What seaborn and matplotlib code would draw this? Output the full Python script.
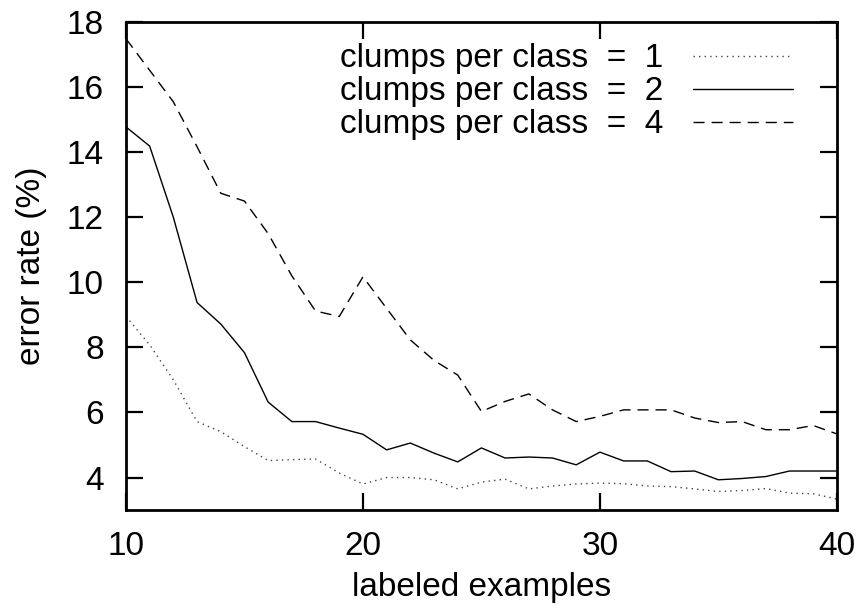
import matplotlib
matplotlib.use("Agg")
import matplotlib.pyplot as plt
import seaborn as sns
import pandas as pd

labeled = list(range(10, 41))
clumps1 = [8.95, 8.08, 7.0, 5.72, 5.41, 4.95, 4.52, 4.55, 4.57, 4.14, 3.8, 4.0, 4.0, 3.93, 3.65, 3.86,
           3.95, 3.65, 3.74, 3.8, 3.83, 3.81, 3.74, 3.72, 3.65, 3.57, 3.6, 3.66, 3.52, 3.5, 3.34]
clumps2 = [14.78, 14.19, 12.0, 9.38, 8.72, 7.84, 6.32, 5.72, 5.72, 5.52, 5.33, 4.85, 5.06, 4.75, 4.48, 4.91,
           4.6, 4.63, 4.6, 4.39, 4.78, 4.51, 4.51, 4.18, 4.2, 3.93, 3.97, 4.03, 4.2, 4.2, 4.2]
clumps4 = [17.49, 16.52, 15.55, 14.17, 12.74, 12.5, 11.5, 10.2, 9.12, 8.95, 10.17, 9.2, 8.23, 7.6, 7.15, 6.03,
           6.34, 6.57, 6.08, 5.72, 5.88, 6.08, 6.08, 6.08, 5.83, 5.69, 5.72, 5.47, 5.47, 5.6, 5.34]
series_labels = ["clumps per class  =  1", "clumps per class  =  2", "clumps per class  =  4"]
x_ticks = [10, 20, 30, 40]
y_ticks = [4, 6, 8, 10, 12, 14, 16, 18]

rows = []
for lab, vals in zip(series_labels, [clumps1, clumps2, clumps4]):
    for xv, yv in zip(labeled, vals):
        rows.append({"labeled examples": xv, "error rate (%)": yv, "series": lab})
df = pd.DataFrame(rows)

sns.set_theme(style="ticks")
plt.rcParams["font.family"] = ["Liberation Sans", "DejaVu Sans"]
plt.rcParams["text.color"] = "black"
plt.rcParams["axes.labelcolor"] = "black"
plt.rcParams["xtick.color"] = "black"
plt.rcParams["ytick.color"] = "black"
plt.rcParams["axes.edgecolor"] = "black"
FS = 24

fig = plt.figure(figsize=(8.61, 6.16), dpi=100)
ax = fig.add_axes([0.1463, 0.172, 0.8257, 0.792])

palette = {series_labels[0]: "#444444", series_labels[1]: "black", series_labels[2]: "black"}
dashes = {series_labels[0]: (1, 3), series_labels[1]: "", series_labels[2]: (8, 5)}
sns.lineplot(data=df, x="labeled examples", y="error rate (%)", hue="series", style="series",
             palette=palette, dashes=dashes, linewidth=1.0, ax=ax, legend=True)

ax.set_xlim(10, 40)
ax.set_ylim(3, 18)
ax.set_xticks(x_ticks)
ax.set_yticks(y_ticks)
ax.tick_params(direction="in", length=12, width=1.6, labelsize=FS, top=True, right=True,
               colors="black")
ax.tick_params(axis="x", pad=15)
ax.tick_params(axis="y", pad=16)
for s in ax.spines.values():
    s.set_linewidth(2)
    s.set_color("black")
    s.set_visible(True)
ax.set_xlabel("labeled examples", fontsize=FS, labelpad=7, color="black")
ax.set_ylabel("error rate (%)", fontsize=FS, labelpad=14, color="black")

leg = ax.legend(loc="upper right", frameon=False, fontsize=FS, markerfirst=False,
                handlelength=3.0, labelspacing=0.06, borderaxespad=0.0, borderpad=0.4,
                handletextpad=0.9, bbox_to_anchor=(0.957, 0.984))
for line in leg.get_lines():
    line.set_linewidth(1.0)
for t in leg.get_texts():
    t.set_color("black")

fig.savefig("out.png", dpi=100)
